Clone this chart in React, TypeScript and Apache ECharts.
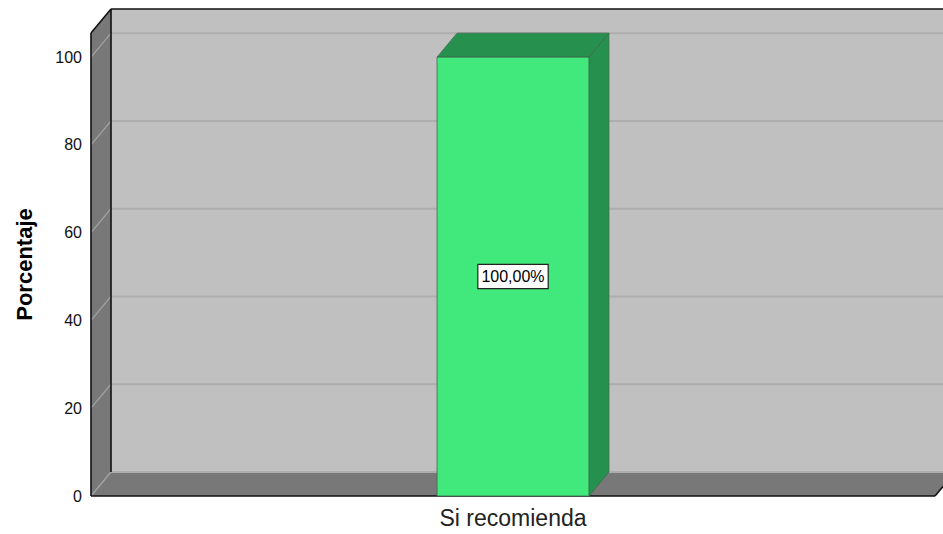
import React, { useEffect, useRef } from "react";
import * as echarts from "echarts";

// ---- data ----
const categories = ["Si recomienda"];
const percentages = [100];
const yTicks = [0, 20, 40, 60, 80, 100];
const yAxisMax = 105.5;
const yAxisTitle = "Porcentaje";

// ---- style ----
const FONT = 'Arial, "Liberation Sans", Helvetica, sans-serif';
const DX = 20;
const DY = -24;
const BACK_WALL = "#c0c0c0";
const SIDE_WALL = "#787878";
const GRID_BACK = "#adadad";
const GRID_SIDE = "#a4a4a4";
const EDGE = "#111111";
const BAR_FRONT = "#41e97d";
const BAR_SHADE = "#26914f";
const BAR_EDGE = "#3d6a4c";

export default function App() {
  const ref = useRef<HTMLDivElement>(null);

  useEffect(() => {
    if (!ref.current) return;
    const chart = echarts.init(ref.current, null, { renderer: "svg" });

    const wallsRender = (params: any, api: any) => {
      const cs = params.coordSys;
      const left = cs.x;
      const top = cs.y;
      const right = cs.x + cs.width;
      const bottom = cs.y + cs.height;
      const children: any[] = [];
      children.push({
        type: "rect",
        shape: { x: left + DX, y: top + DY, width: right - left + 40, height: bottom - top },
        style: { fill: BACK_WALL },
      });
      children.push({
        type: "polygon",
        shape: { points: [[left, top], [left + DX, top + DY], [left + DX, bottom + DY], [left, bottom]] },
        style: { fill: SIDE_WALL },
      });
      children.push({
        type: "polygon",
        shape: { points: [[left, bottom], [left + DX, bottom + DY], [right + DX, bottom + DY], [right, bottom]] },
        style: { fill: SIDE_WALL },
      });
      yTicks.forEach((t) => {
        const y = api.coord([0, t])[1];
        children.push({
          type: "line",
          shape: { x1: left + DX, y1: y + DY, x2: right + DX + 40, y2: y + DY },
          style: { stroke: GRID_BACK, lineWidth: 2 },
        });
        children.push({
          type: "line",
          shape: { x1: left, y1: y, x2: left + DX, y2: y + DY },
          style: { stroke: GRID_SIDE, lineWidth: 1.2 },
        });
      });
      const edges = [
        [left, top, left, bottom],
        [left + DX, top + DY, left + DX, bottom + DY],
        [left, top, left + DX, top + DY],
        [left + DX, top + DY, right + DX + 40, top + DY],
        [left, bottom, right, bottom],
        [right, bottom, right + DX, bottom + DY],
      ];
      edges.forEach(([x1, y1, x2, y2]) =>
        children.push({
          type: "line",
          shape: { x1, y1, x2, y2 },
          style: { stroke: EDGE, lineWidth: 1.6 },
        })
      );
      return { type: "group", children };
    };

    const barRender = (params: any, api: any) => {
      const cat = api.value(0);
      const val = api.value(1);
      const [cx, yTop] = api.coord([cat, val]);
      const y0 = api.coord([cat, 0])[1];
      const yMid = api.coord([cat, val / 2])[1];
      const bw = api.size([1, 0])[0] * 0.18;
      const l = cx - bw / 2;
      const r = cx + bw / 2;
      const label = val.toFixed(2).replace(".", ",") + "%";
      return {
        type: "group",
        children: [
          {
            type: "polygon",
            shape: { points: [[r, yTop], [r + DX, yTop + DY], [r + DX, y0 + DY], [r, y0]] },
            style: { fill: BAR_SHADE, stroke: BAR_EDGE, lineWidth: 0.8 },
          },
          {
            type: "polygon",
            shape: { points: [[l, yTop], [l + DX, yTop + DY], [r + DX, yTop + DY], [r, yTop]] },
            style: { fill: BAR_SHADE, stroke: BAR_EDGE, lineWidth: 0.8 },
          },
          {
            type: "rect",
            shape: { x: l, y: yTop, width: bw, height: y0 - yTop },
            style: { fill: BAR_FRONT, stroke: BAR_EDGE, lineWidth: 0.8 },
          },
          {
            type: "text",
            style: {
              text: label,
              x: cx,
              y: yMid,
              align: "center",
              verticalAlign: "middle",
              fill: "#000",
              fontSize: 16,
              fontFamily: FONT,
              backgroundColor: "#ffffff",
              borderColor: "#222",
              borderWidth: 1.2,
              padding: [4, 3, 3, 3],
            },
          },
        ],
      };
    };

    chart.setOption({
      animation: false,
      grid: { left: 91, right: 8, top: 33, bottom: 38, containLabel: false },
      xAxis: {
        type: "category",
        data: categories,
        axisLine: { show: false },
        axisTick: { show: false },
        splitLine: { show: false },
        axisLabel: { fontSize: 23, color: "#222", margin: 10, fontFamily: FONT },
      },
      yAxis: {
        type: "value",
        min: 0,
        max: yAxisMax,
        interval: 20,
        axisLine: { show: false },
        axisTick: { show: false },
        splitLine: { show: false },
        axisLabel: {
          formatter: (v: number) => (yTicks.includes(v) ? String(v) : ""),
          fontSize: 16,
          margin: 9,
          color: "#111",
          fontFamily: FONT,
          padding: [4, 0, 0, 0],
        },
        name: yAxisTitle,
        nameLocation: "middle",
        nameGap: 56,
        nameTextStyle: { fontWeight: "bold", fontSize: 22, color: "#000", fontFamily: FONT },
      },
      series: [
        {
          type: "custom",
          z: 1,
          clip: false,
          renderItem: wallsRender,
          data: [[0, 0]],
          silent: true,
        },
        {
          type: "custom",
          z: 3,
          clip: false,
          renderItem: barRender,
          data: percentages.map((v, i) => [i, v]),
        },
      ],
    });

    return () => chart.dispose();
  }, []);

  return (
    <div
      ref={ref}
      style={{ position: "absolute", left: 0, top: 0, width: 943, height: 534, background: "#fff" }}
    />
  );
}
